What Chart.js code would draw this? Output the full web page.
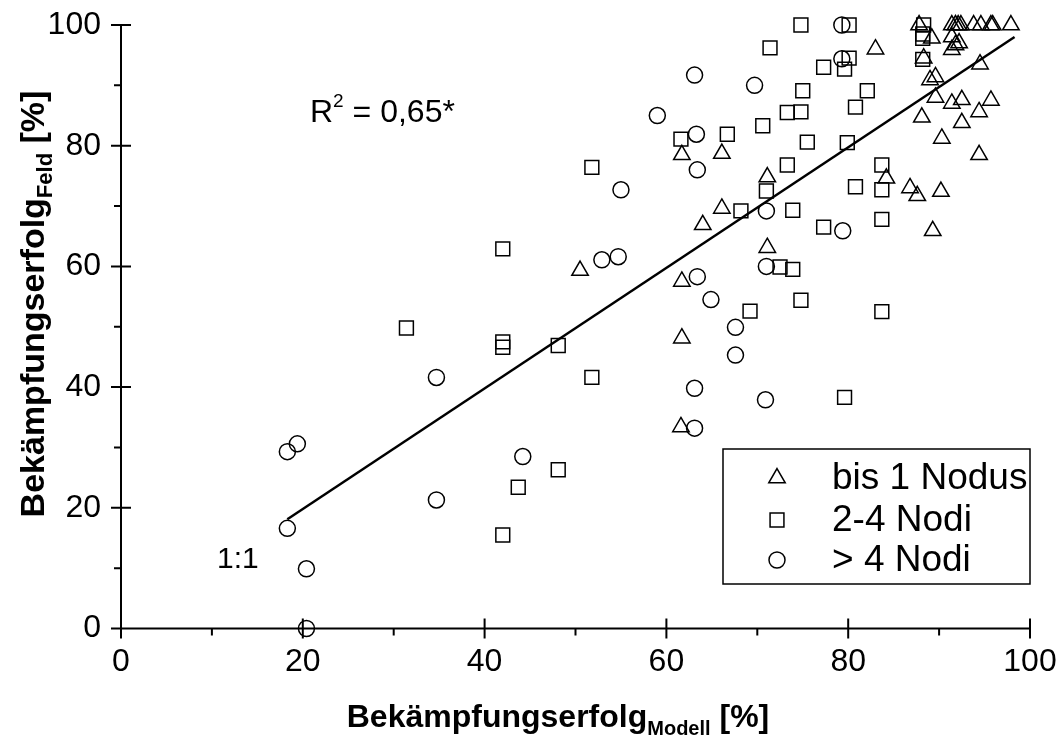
<!DOCTYPE html>
<html>
<head>
<meta charset="utf-8">
<script src="https://cdn.jsdelivr.net/npm/chart.js@4.4.1/dist/chart.umd.min.js"></script>
<style>
html, body { margin: 0; padding: 0; background: #fff; }
#wrap { width: 1058px; height: 754px; }
</style>
</head>
<body>
<div id="wrap"><canvas id="myScatter" width="1058" height="754"></canvas></div>
<script>
// Werte (Modell = x, Feld = y)
var bis1NodusModell = [50.5, 61.7, 66.1, 71.1, 66.1, 64.0, 71.1, 61.7, 61.7, 61.6,
    83.0, 87.8, 89.2, 91.4, 91.8, 92.1, 92.4, 93.8, 94.6, 95.7, 95.9, 97.9,
    91.4, 91.8, 92.2, 91.4, 88.3, 94.5, 89.6, 89.0, 89.6, 91.4, 92.5, 95.7,
    94.4, 88.1, 92.5, 90.3, 94.4, 84.2, 86.8, 87.6, 90.2, 89.3];
var bis1NodusFeld = [59.3, 78.5, 78.7, 74.8, 69.6, 66.9, 63.1, 57.5, 48.1, 33.4,
    96.0, 100, 97.8, 100, 100, 100, 100, 100, 100, 100, 100, 100,
    98.0, 96.7, 97.0, 95.9, 94.5, 93.5, 91.4, 90.9, 88.0, 87.0, 87.6, 87.5,
    85.6, 84.7, 83.8, 81.2, 78.5, 74.6, 73.0, 71.7, 72.4, 65.9];

var nodi24Modell = [31.4, 42.0, 42.0, 48.1, 51.8, 48.1, 43.7, 42.0, 42.0, 51.8,
    74.8, 71.4, 77.3, 75.0, 73.3, 74.8, 70.6, 61.6, 66.7, 75.5, 73.3, 71.0,
    68.2, 73.9, 77.3, 72.5, 73.9, 74.8, 69.2, 79.6, 80.1, 80.1, 79.6, 82.1,
    80.8, 79.9, 83.7, 80.8, 83.7, 83.7, 83.7, 88.3, 88.2, 88.2, 88.2];
var nodi24Feld = [49.8, 47.5, 46.6, 46.9, 41.6, 26.3, 23.4, 15.5, 62.9, 76.4,
    100, 96.2, 93.0, 89.1, 85.5, 85.6, 83.3, 81.1, 81.9, 80.6, 76.8, 72.5,
    69.2, 69.3, 66.5, 59.9, 59.5, 54.4, 52.6, 38.3, 100, 94.5, 92.7, 89.1,
    86.4, 80.5, 76.8, 73.2, 72.7, 67.8, 52.5, 100, 98.5, 97.8, 94.3];

var nodi4Modell = [20.4, 20.4, 18.3, 18.3, 19.4, 34.7, 34.7, 44.2, 52.9, 54.7,
    55.0, 59.0, 63.1, 63.3, 63.4, 63.4, 63.1, 63.1, 64.9, 67.6, 67.6, 69.7,
    71.0, 71.0, 70.9, 79.3, 79.3, 79.4];
var nodi4Feld = [0, 9.9, 16.6, 29.3, 30.6, 21.3, 41.6, 28.5, 61.1, 61.6,
    72.7, 85.0, 91.7, 81.9, 76.0, 58.3, 39.8, 33.2, 54.5, 49.9, 45.3, 90.0,
    69.2, 60.0, 37.9, 100, 94.4, 65.9];

// Regressionsgerade
var linieModell = [18.3, 98.3];
var linieFeld = [18.1, 98.0];

var schrift = 'Liberation Sans, Arial, sans-serif';

function zuPunkten(xs, ys) {
    var p = [];
    for (var i = 0; i < xs.length; i++) p.push({ x: xs[i], y: ys[i] });
    return p;
}

// Text mit Hoch-/Tiefstellung zeichnen
function zeichneTeile(ctx, teile, x, y, ausrichtung) {
    var breite = 0;
    teile.forEach(function (t) {
        ctx.font = (t.bold ? 'bold ' : '') + t.size + 'px ' + schrift;
        t.w = ctx.measureText(t.text).width;
        breite += t.w;
    });
    var start = ausrichtung === 'center' ? x - breite / 2 : x;
    teile.forEach(function (t) {
        ctx.font = (t.bold ? 'bold ' : '') + t.size + 'px ' + schrift;
        ctx.fillText(t.text, start, y + (t.dy || 0));
        start += t.w;
    });
}

function zeichneMarker(ctx, stil, r, x, y) {
    ctx.beginPath();
    if (stil === 'circle') ctx.arc(x, y, r, 0, Math.PI * 2);
    else if (stil === 'rect') { var s = r * Math.SQRT1_2; ctx.rect(x - s, y - s, 2 * s, 2 * s); }
    else {
        ctx.moveTo(x, y - r);
        ctx.lineTo(x + 0.866 * r, y + r / 2);
        ctx.lineTo(x - 0.866 * r, y + r / 2);
        ctx.closePath();
    }
    ctx.stroke();
}

var extrasPlugin = {
    id: 'extras',
    beforeDatasetsDraw: function (chart) {
        var ctx = chart.ctx, xs = chart.scales.x, ys = chart.scales.y;
        var x0 = xs.getPixelForValue(0), y0 = ys.getPixelForValue(0);
        ctx.save();
        ctx.strokeStyle = '#000';
        ctx.lineWidth = 2;
        ctx.beginPath();
        ctx.moveTo(x0 - 10, y0); ctx.lineTo(xs.getPixelForValue(100), y0);
        ctx.moveTo(x0, ys.getPixelForValue(100)); ctx.lineTo(x0, y0 + 10);
        for (var v = 0; v <= 100; v += 10) {
            var px = xs.getPixelForValue(v), py = ys.getPixelForValue(v);
            if (v % 20 === 0) {
                ctx.moveTo(px, y0 - 10); ctx.lineTo(px, y0 + 10);
                ctx.moveTo(x0 - 10, py); ctx.lineTo(x0 + 10, py);
            } else {
                ctx.moveTo(px, y0); ctx.lineTo(px, y0 + 7);
                ctx.moveTo(x0 - 7, py); ctx.lineTo(x0, py);
            }
        }
        ctx.stroke();
        ctx.restore();
    },
    afterDraw: function (chart) {
        var ctx = chart.ctx;
        ctx.save();
        ctx.fillStyle = '#000';
        ctx.textBaseline = 'alphabetic';

        // Achsentitel
        zeichneTeile(ctx, [
            { text: 'Bekämpfungserfolg', size: 32, bold: true },
            { text: 'Modell', size: 20, bold: true, dy: 8 },
            { text: ' [%]', size: 32, bold: true }
        ], 558, 727, 'center');

        ctx.save();
        ctx.translate(44, 304);
        ctx.rotate(-Math.PI / 2);
        zeichneTeile(ctx, [
            { text: 'Bekämpfungserfolg', size: 34, bold: true },
            { text: 'Feld', size: 22, bold: true, dy: 8 },
            { text: ' [%]', size: 34, bold: true }
        ], 0, 0, 'center');
        ctx.restore();

        // Bestimmtheitsmass und 1:1
        zeichneTeile(ctx, [
            { text: 'R', size: 32 },
            { text: '2', size: 19, dy: -15 },
            { text: ' = 0,65*', size: 32 }
        ], 310, 122, 'left');
        zeichneTeile(ctx, [{ text: '1:1', size: 30 }], 217, 568, 'left');

        // Legende
        ctx.strokeStyle = '#000';
        ctx.lineWidth = 1.5;
        ctx.strokeRect(723, 449, 307, 135);
        var eintraege = chart.data.datasets.filter(function (d) { return d.label; });
        var zeilen = [478, 520, 560];
        ctx.textBaseline = 'middle';
        ctx.font = '37px ' + schrift;
        eintraege.forEach(function (d, i) {
            zeichneMarker(ctx, d.pointStyle, d.pointRadius, 777, zeilen[i]);
            ctx.fillText(d.label, 832, zeilen[i] + 1);
        });
        ctx.restore();
    }
};

var ctx = document.getElementById('myScatter').getContext('2d');
var myScatter = new Chart(ctx, {
    type: 'scatter',
    data: {
        datasets: [{
            label: 'bis 1 Nodus',
            data: zuPunkten(bis1NodusModell, bis1NodusFeld),
            pointStyle: 'triangle',
            pointRadius: 9.5,
            borderColor: '#000',
            backgroundColor: 'rgba(0,0,0,0)',
            borderWidth: 1.5,
            clip: false
        }, {
            label: '2-4 Nodi',
            data: zuPunkten(nodi24Modell, nodi24Feld),
            pointStyle: 'rect',
            pointRadius: 9.8,
            borderColor: '#000',
            backgroundColor: 'rgba(0,0,0,0)',
            borderWidth: 1.5,
            clip: false
        }, {
            label: '> 4 Nodi',
            data: zuPunkten(nodi4Modell, nodi4Feld),
            pointStyle: 'circle',
            pointRadius: 8,
            borderColor: '#000',
            backgroundColor: 'rgba(0,0,0,0)',
            borderWidth: 1.5,
            clip: false
        }, {
            data: zuPunkten(linieModell, linieFeld),
            showLine: true,
            pointRadius: 0,
            borderColor: '#000',
            borderWidth: 2.5,
            clip: false
        }]
    },
    options: {
        responsive: false,
        animation: false,
        devicePixelRatio: 1,
        layout: { padding: { left: 0, top: 25, right: 28, bottom: 0 } },
        plugins: { legend: { display: false }, tooltip: { enabled: false } },
        scales: {
            x: {
                type: 'linear', min: 0, max: 100,
                ticks: { stepSize: 20, color: '#000', padding: 14, maxRotation: 0,
                    font: { family: schrift, size: 32 } },
                grid: { display: false, drawTicks: false },
                border: { display: false },
                afterFit: function (s) {
                    s.height = 754 - 628.5;
                    s.paddingLeft = 0; s.paddingRight = 0;
                }
            },
            y: {
                type: 'linear', min: 0, max: 100,
                ticks: { stepSize: 20, color: '#000', padding: 20,
                    font: { family: schrift, size: 32 } },
                grid: { display: false, drawTicks: false },
                border: { display: false },
                afterFit: function (s) {
                    s.width = 121;
                    s.paddingTop = 0; s.paddingBottom = 0;
                }
            }
        }
    },
    plugins: [extrasPlugin]
});
</script>
</body>
</html>
